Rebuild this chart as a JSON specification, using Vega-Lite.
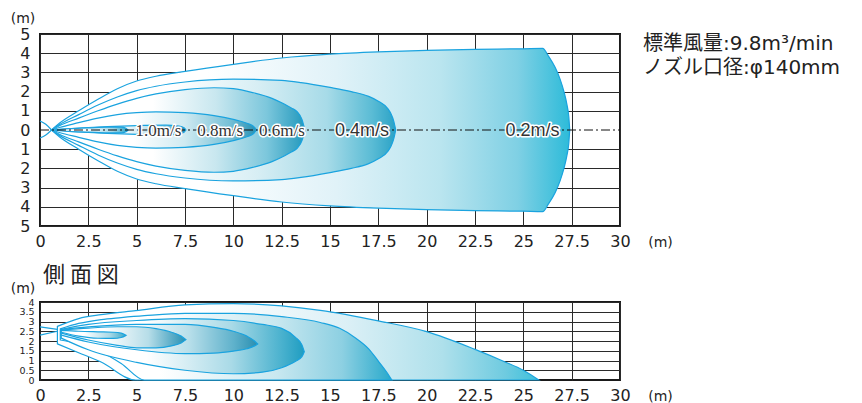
{
  "$schema": "https://vega.github.io/schema/vega-lite/v6.json",
  "background": "white",
  "padding": {"left": 9, "top": 10, "right": 0, "bottom": 0},
  "bounds": "flush",
  "spacing": 76,
  "config": {
    "view": {"stroke": "#1a1a1a", "strokeWidth": 2},
    "axis": {"zindex": 1, "grid": true, "gridColor": "#2a2a2a", "gridWidth": 1, "ticks": false, "domain": false, "labelColor": "#222222", "labelFont": "DejaVu Sans", "labelFontSize": 16, "labelOverlap": false, "titleFont": "DejaVu Sans", "titleFontSize": 14, "titleFontWeight": "normal", "titleColor": "#222222"}
  },
  "datasets": {
    "top": [
      {"shape": "0.2", "x": 0.6, "y": 0, "y2": 0},
      {"shape": "0.2", "x": 1, "y": 0.35, "y2": -0.35},
      {"shape": "0.2", "x": 2, "y": 1.0, "y2": -1.0},
      {"shape": "0.2", "x": 3, "y": 1.6, "y2": -1.6},
      {"shape": "0.2", "x": 4, "y": 2.15, "y2": -2.15},
      {"shape": "0.2", "x": 5, "y": 2.55, "y2": -2.55},
      {"shape": "0.2", "x": 6, "y": 2.8, "y2": -2.8},
      {"shape": "0.2", "x": 7.5, "y": 3.05, "y2": -3.05},
      {"shape": "0.2", "x": 10, "y": 3.42, "y2": -3.42},
      {"shape": "0.2", "x": 12.5, "y": 3.75, "y2": -3.75},
      {"shape": "0.2", "x": 15, "y": 3.95, "y2": -3.95},
      {"shape": "0.2", "x": 17.5, "y": 4.07, "y2": -4.07},
      {"shape": "0.2", "x": 20, "y": 4.15, "y2": -4.15},
      {"shape": "0.2", "x": 22.5, "y": 4.2, "y2": -4.2},
      {"shape": "0.2", "x": 25, "y": 4.23, "y2": -4.23},
      {"shape": "0.2", "x": 26, "y": 4.25, "y2": -4.25},
      {"shape": "0.2", "x": 26.3, "y": 3.85, "y2": -3.85},
      {"shape": "0.2", "x": 26.65, "y": 3.25, "y2": -3.25},
      {"shape": "0.2", "x": 26.9, "y": 2.65, "y2": -2.65},
      {"shape": "0.2", "x": 27.1, "y": 2.0, "y2": -2.0},
      {"shape": "0.2", "x": 27.25, "y": 1.35, "y2": -1.35},
      {"shape": "0.2", "x": 27.35, "y": 0.7, "y2": -0.7},
      {"shape": "0.2", "x": 27.4, "y": 0, "y2": 0},

      {"shape": "0.4", "x": 0.6, "y": 0, "y2": 0},
      {"shape": "0.4", "x": 1, "y": 0.28, "y2": -0.28},
      {"shape": "0.4", "x": 2, "y": 0.8, "y2": -0.8},
      {"shape": "0.4", "x": 3, "y": 1.3, "y2": -1.3},
      {"shape": "0.4", "x": 4, "y": 1.72, "y2": -1.72},
      {"shape": "0.4", "x": 5, "y": 2.05, "y2": -2.05},
      {"shape": "0.4", "x": 6, "y": 2.28, "y2": -2.28},
      {"shape": "0.4", "x": 7.5, "y": 2.5, "y2": -2.5},
      {"shape": "0.4", "x": 10, "y": 2.65, "y2": -2.65},
      {"shape": "0.4", "x": 12.5, "y": 2.58, "y2": -2.58},
      {"shape": "0.4", "x": 13.5, "y": 2.47, "y2": -2.47},
      {"shape": "0.4", "x": 15, "y": 2.22, "y2": -2.22},
      {"shape": "0.4", "x": 16.1, "y": 2.0, "y2": -2.0},
      {"shape": "0.4", "x": 17, "y": 1.75, "y2": -1.75},
      {"shape": "0.4", "x": 17.5, "y": 1.5, "y2": -1.5},
      {"shape": "0.4", "x": 18, "y": 1.1, "y2": -1.1},
      {"shape": "0.4", "x": 18.16, "y": 0.83, "y2": -0.83},
      {"shape": "0.4", "x": 18.3, "y": 0.45, "y2": -0.45},
      {"shape": "0.4", "x": 18.4, "y": 0, "y2": 0},

      {"shape": "0.6", "x": 0.6, "y": 0, "y2": 0},
      {"shape": "0.6", "x": 1, "y": 0.22, "y2": -0.22},
      {"shape": "0.6", "x": 2, "y": 0.62, "y2": -0.62},
      {"shape": "0.6", "x": 3, "y": 1.0, "y2": -1.0},
      {"shape": "0.6", "x": 4, "y": 1.35, "y2": -1.35},
      {"shape": "0.6", "x": 5, "y": 1.65, "y2": -1.65},
      {"shape": "0.6", "x": 6, "y": 1.88, "y2": -1.88},
      {"shape": "0.6", "x": 7.5, "y": 2.1, "y2": -2.1},
      {"shape": "0.6", "x": 9, "y": 2.2, "y2": -2.2},
      {"shape": "0.6", "x": 10, "y": 2.15, "y2": -2.15},
      {"shape": "0.6", "x": 11, "y": 1.95, "y2": -1.95},
      {"shape": "0.6", "x": 12, "y": 1.65, "y2": -1.65},
      {"shape": "0.6", "x": 12.5, "y": 1.42, "y2": -1.42},
      {"shape": "0.6", "x": 13, "y": 1.15, "y2": -1.15},
      {"shape": "0.6", "x": 13.3, "y": 0.95, "y2": -0.95},
      {"shape": "0.6", "x": 13.55, "y": 0.55, "y2": -0.55},
      {"shape": "0.6", "x": 13.7, "y": 0, "y2": 0},

      {"shape": "0.8", "x": 0.6, "y": 0, "y2": 0},
      {"shape": "0.8", "x": 1, "y": 0.13, "y2": -0.13},
      {"shape": "0.8", "x": 2, "y": 0.38, "y2": -0.38},
      {"shape": "0.8", "x": 3, "y": 0.62, "y2": -0.62},
      {"shape": "0.8", "x": 4, "y": 0.8, "y2": -0.8},
      {"shape": "0.8", "x": 5, "y": 0.9, "y2": -0.9},
      {"shape": "0.8", "x": 6, "y": 0.94, "y2": -0.94},
      {"shape": "0.8", "x": 7.5, "y": 0.9, "y2": -0.9},
      {"shape": "0.8", "x": 9, "y": 0.75, "y2": -0.75},
      {"shape": "0.8", "x": 10, "y": 0.55, "y2": -0.55},
      {"shape": "0.8", "x": 10.7, "y": 0.35, "y2": -0.35},
      {"shape": "0.8", "x": 11.05, "y": 0.18, "y2": -0.18},
      {"shape": "0.8", "x": 11.2, "y": 0, "y2": 0},

      {"shape": "1.0", "x": 0.6, "y": 0, "y2": 0},
      {"shape": "1.0", "x": 2, "y": 0.1, "y2": -0.1},
      {"shape": "1.0", "x": 3.5, "y": 0.18, "y2": -0.18},
      {"shape": "1.0", "x": 5, "y": 0.23, "y2": -0.23},
      {"shape": "1.0", "x": 6.5, "y": 0.25, "y2": -0.25},
      {"shape": "1.0", "x": 7.2, "y": 0.2, "y2": -0.2},
      {"shape": "1.0", "x": 7.45, "y": 0.12, "y2": -0.12},
      {"shape": "1.0", "x": 7.55, "y": 0, "y2": 0},

      {"shape": "1.5", "x": 0.6, "y": 0, "y2": 0},
      {"shape": "1.5", "x": 1.5, "y": 0.07, "y2": -0.07},
      {"shape": "1.5", "x": 2.5, "y": 0.11, "y2": -0.11},
      {"shape": "1.5", "x": 3.5, "y": 0.15, "y2": -0.15},
      {"shape": "1.5", "x": 4.2, "y": 0.15, "y2": -0.15},
      {"shape": "1.5", "x": 4.45, "y": 0.09, "y2": -0.09},
      {"shape": "1.5", "x": 4.55, "y": 0, "y2": 0}
    ],
    "topInlet": [
      {"part": "a", "x": 0, "y": 0.47},
      {"part": "a", "x": 0.3, "y": 0.3},
      {"part": "a", "x": 0.6, "y": 0},
      {"part": "b", "x": 0, "y": -0.42},
      {"part": "b", "x": 0.3, "y": -0.26},
      {"part": "b", "x": 0.6, "y": 0}
    ],
    "centerLine": [
      {"x": 0, "x2": 30, "y": 0}
    ],
    "topLabels": [
      {"label": "1.0m/s", "x": 6.13, "y": 0},
      {"label": "0.8m/s", "x": 9.32, "y": 0},
      {"label": "0.6m/s", "x": 12.51, "y": 0},
      {"label": "0.4m/s", "x": 16.65, "y": 0},
      {"label": "0.2m/s", "x": 25.47, "y": 0}
    ],
    "side": [
      {"shape": "0.2", "x": 0.9, "y": 2.75, "y2": 1.85},
      {"shape": "0.2", "x": 2, "y": 3.15, "y2": 1.4},
      {"shape": "0.2", "x": 3.16, "y": 3.35, "y2": 0.92},
      {"shape": "0.2", "x": 4.95, "y": 3.56, "y2": 0},
      {"shape": "0.2", "x": 7.5, "y": 3.85, "y2": 0},
      {"shape": "0.2", "x": 10, "y": 3.92, "y2": 0},
      {"shape": "0.2", "x": 12.5, "y": 3.8, "y2": 0},
      {"shape": "0.2", "x": 14.5, "y": 3.57, "y2": 0},
      {"shape": "0.2", "x": 17.5, "y": 3.03, "y2": 0},
      {"shape": "0.2", "x": 20, "y": 2.48, "y2": 0},
      {"shape": "0.2", "x": 22.5, "y": 1.57, "y2": 0},
      {"shape": "0.2", "x": 24, "y": 0.95, "y2": 0},
      {"shape": "0.2", "x": 25, "y": 0.5, "y2": 0},
      {"shape": "0.2", "x": 25.8, "y": 0, "y2": 0},

      {"shape": "0.4", "x": 1.05, "y": 2.62, "y2": 2.05},
      {"shape": "0.4", "x": 2, "y": 2.9, "y2": 1.85},
      {"shape": "0.4", "x": 3.16, "y": 3.1, "y2": 1.44},
      {"shape": "0.4", "x": 4.2, "y": 3.2, "y2": 0.85},
      {"shape": "0.4", "x": 5.4, "y": 3.3, "y2": 0},
      {"shape": "0.4", "x": 7.5, "y": 3.42, "y2": 0},
      {"shape": "0.4", "x": 10, "y": 3.42, "y2": 0},
      {"shape": "0.4", "x": 12.5, "y": 3.25, "y2": 0},
      {"shape": "0.4", "x": 14.5, "y": 2.95, "y2": 0},
      {"shape": "0.4", "x": 15.5, "y": 2.65, "y2": 0},
      {"shape": "0.4", "x": 16.3, "y": 2.17, "y2": 0},
      {"shape": "0.4", "x": 17, "y": 1.6, "y2": 0},
      {"shape": "0.4", "x": 17.5, "y": 0.97, "y2": 0},
      {"shape": "0.4", "x": 17.9, "y": 0.45, "y2": 0},
      {"shape": "0.4", "x": 18.2, "y": 0, "y2": 0},

      {"shape": "0.6", "x": 1.1, "y": 2.6, "y2": 2.15},
      {"shape": "0.6", "x": 2.5, "y": 2.85, "y2": 1.55},
      {"shape": "0.6", "x": 5, "y": 3.05, "y2": 0.9},
      {"shape": "0.6", "x": 7.5, "y": 3.15, "y2": 0.5},
      {"shape": "0.6", "x": 10, "y": 3.05, "y2": 0.32},
      {"shape": "0.6", "x": 11.5, "y": 2.85, "y2": 0.4},
      {"shape": "0.6", "x": 12.5, "y": 2.65, "y2": 0.63},
      {"shape": "0.6", "x": 13.2, "y": 2.2, "y2": 0.95},
      {"shape": "0.6", "x": 13.55, "y": 1.8, "y2": 1.2},
      {"shape": "0.6", "x": 13.67, "y": 1.45, "y2": 1.45},

      {"shape": "0.8", "x": 1.1, "y": 2.58, "y2": 2.3},
      {"shape": "0.8", "x": 2.5, "y": 2.72, "y2": 1.95},
      {"shape": "0.8", "x": 5, "y": 2.85, "y2": 1.55},
      {"shape": "0.8", "x": 7.5, "y": 2.85, "y2": 1.35},
      {"shape": "0.8", "x": 9, "y": 2.7, "y2": 1.38},
      {"shape": "0.8", "x": 10, "y": 2.5, "y2": 1.48},
      {"shape": "0.8", "x": 10.7, "y": 2.25, "y2": 1.6},
      {"shape": "0.8", "x": 11.1, "y": 2.0, "y2": 1.75},
      {"shape": "0.8", "x": 11.26, "y": 1.85, "y2": 1.85},

      {"shape": "1.0", "x": 1.1, "y": 2.56, "y2": 2.4},
      {"shape": "1.0", "x": 2.5, "y": 2.66, "y2": 2.05},
      {"shape": "1.0", "x": 4, "y": 2.73, "y2": 1.78},
      {"shape": "1.0", "x": 5, "y": 2.73, "y2": 1.65},
      {"shape": "1.0", "x": 6, "y": 2.63, "y2": 1.65},
      {"shape": "1.0", "x": 6.8, "y": 2.45, "y2": 1.75},
      {"shape": "1.0", "x": 7.3, "y": 2.25, "y2": 1.9},
      {"shape": "1.0", "x": 7.55, "y": 2.07, "y2": 2.07},

      {"shape": "1.5", "x": 1.1, "y": 2.55, "y2": 2.45},
      {"shape": "1.5", "x": 2, "y": 2.5, "y2": 2.25},
      {"shape": "1.5", "x": 3, "y": 2.47, "y2": 2.14},
      {"shape": "1.5", "x": 3.8, "y": 2.45, "y2": 2.13},
      {"shape": "1.5", "x": 4.2, "y": 2.4, "y2": 2.18},
      {"shape": "1.5", "x": 4.45, "y": 2.29, "y2": 2.29}
    ],
    "sideInlet": [
      {"part": "a", "x": 0, "y": 2.72},
      {"part": "a", "x": 0.9, "y": 2.6},
      {"part": "b", "x": 0, "y": 2.3},
      {"part": "b", "x": 0.9, "y": 2.5}
    ]
  },
  "vconcat": [
    {
      "width": 580,
      "height": 192,
      "title": {"text": ["標準風量:9.8m³/min", "ノズル口径:φ140mm"], "orient": "top", "anchor": "start", "frame": "group", "align": "left", "baseline": "top", "offset": 0, "dx": 603, "dy": 67, "font": "DejaVu Sans, Noto Sans CJK JP", "fontSize": 20, "fontWeight": "normal", "color": "#222222", "lineHeight": 24},
      "encoding": {
        "x": {"field": "x", "type": "quantitative", "scale": {"domain": [0, 30], "nice": false, "zero": false},
          "axis": {"values": [0, 2.5, 5, 7.5, 10, 12.5, 15, 17.5, 20, 22.5, 25, 27.5, 30], "format": ".1~f", "labelFlush": false, "labelPadding": 7, "title": "(m)", "titleX": 620, "titleY": 16, "titleAlign": "center", "titleBaseline": "middle"}},
        "y": {"field": "y", "type": "quantitative", "scale": {"domain": [-5, 5], "nice": false, "zero": false},
          "axis": {"values": [-5, -4, -3, -2, -1, 0, 1, 2, 3, 4, 5], "labelExpr": "'' + abs(datum.value)", "labelPadding": 10, "gridOpacity": {"condition": {"test": "datum.value === 0", "value": 0}, "value": 1}, "title": "(m)", "titleAngle": 0, "titleX": -17.5, "titleY": -16, "titleAlign": "center", "titleBaseline": "middle"}}
      },
      "layer": [
        {"data": {"name": "top"}, "transform": [{"filter": "datum.shape === '0.2'"}],
          "mark": {"type": "area", "interpolate": "monotone", "stroke": "#1aa3df", "strokeWidth": 1.2,
            "fill": {"gradient": "linear", "x1": 0, "y1": 0, "x2": 1, "y2": 0, "stops": [{"offset": 0, "color": "#ffffff"}, {"offset": 0.3, "color": "#ffffff"}, {"offset": 0.55, "color": "#e0f2f8"}, {"offset": 0.75, "color": "#bae5ef"}, {"offset": 0.9, "color": "#7fd0e4"}, {"offset": 1, "color": "#2dbbd9"}]}},
          "encoding": {"y2": {"field": "y2"}}},
        {"data": {"name": "top"}, "transform": [{"filter": "datum.shape === '0.4'"}],
          "mark": {"type": "area", "interpolate": "monotone", "stroke": "#1aa3df", "strokeWidth": 1.2,
            "fill": {"gradient": "linear", "x1": 0, "y1": 0, "x2": 1, "y2": 0, "stops": [{"offset": 0, "color": "#ffffff"}, {"offset": 0.35, "color": "#ffffff"}, {"offset": 0.6, "color": "#d7eef4"}, {"offset": 0.8, "color": "#a7dbe8"}, {"offset": 0.93, "color": "#5bbcd5"}, {"offset": 1, "color": "#2aa2c6"}]}},
          "encoding": {"y2": {"field": "y2"}}},
        {"data": {"name": "top"}, "transform": [{"filter": "datum.shape === '0.6'"}],
          "mark": {"type": "area", "interpolate": "monotone", "stroke": "#1aa3df", "strokeWidth": 1.2,
            "fill": {"gradient": "linear", "x1": 0, "y1": 0, "x2": 1, "y2": 0, "stops": [{"offset": 0, "color": "#ffffff"}, {"offset": 0.4, "color": "#ffffff"}, {"offset": 0.65, "color": "#c8e7ef"}, {"offset": 0.85, "color": "#7cc7dc"}, {"offset": 1, "color": "#2399bd"}]}},
          "encoding": {"y2": {"field": "y2"}}},
        {"data": {"name": "top"}, "transform": [{"filter": "datum.shape === '0.8'"}],
          "mark": {"type": "area", "interpolate": "monotone", "stroke": "#1aa3df", "strokeWidth": 1.2,
            "fill": {"gradient": "linear", "x1": 0, "y1": 0, "x2": 1, "y2": 0, "stops": [{"offset": 0, "color": "#ffffff"}, {"offset": 0.4, "color": "#ffffff"}, {"offset": 0.65, "color": "#cfeaf1"}, {"offset": 0.87, "color": "#76c0d6"}, {"offset": 1, "color": "#2690b3"}]}},
          "encoding": {"y2": {"field": "y2"}}},
        {"data": {"name": "top"}, "transform": [{"filter": "datum.shape === '1.0'"}],
          "mark": {"type": "area", "interpolate": "monotone", "stroke": "#1aa3df", "strokeWidth": 1.2,
            "fill": {"gradient": "linear", "x1": 0, "y1": 0, "x2": 1, "y2": 0, "stops": [{"offset": 0, "color": "#ffffff"}, {"offset": 0.5, "color": "#ffffff"}, {"offset": 0.8, "color": "#a9d9e6"}, {"offset": 1, "color": "#1f88ad"}]}},
          "encoding": {"y2": {"field": "y2"}}},
        {"data": {"name": "top"}, "transform": [{"filter": "datum.shape === '1.5'"}],
          "mark": {"type": "area", "interpolate": "monotone", "stroke": "#1aa3df", "strokeWidth": 1.2,
            "fill": {"gradient": "linear", "x1": 0, "y1": 0, "x2": 1, "y2": 0, "stops": [{"offset": 0, "color": "#ffffff"}, {"offset": 0.4, "color": "#ffffff"}, {"offset": 0.8, "color": "#a3d6e5"}, {"offset": 1, "color": "#2ea5c8"}]}},
          "encoding": {"y2": {"field": "y2"}}},
        {"data": {"name": "topInlet"},
          "mark": {"type": "line", "interpolate": "monotone", "stroke": "#1aa3df", "strokeWidth": 1.2},
          "encoding": {"detail": {"field": "part"}}},
        {"data": {"name": "centerLine"},
          "mark": {"type": "rule", "color": "#111111", "strokeWidth": 1, "strokeDash": [9, 3, 2, 3]},
          "encoding": {"x2": {"field": "x2"}}},
        {"data": {"name": "topLabels"}, "transform": [{"filter": "datum.label !== '0.4m/s' && datum.label !== '0.2m/s'"}],
          "mark": {"type": "text", "font": "Liberation Sans Narrow", "fontSize": 17, "baseline": "middle", "align": "center", "dy": 1, "fill": "white", "stroke": "white", "strokeWidth": 3, "strokeJoin": "round"},
          "encoding": {"text": {"field": "label"}}},
        {"data": {"name": "topLabels"}, "transform": [{"filter": "datum.label !== '0.4m/s' && datum.label !== '0.2m/s'"}],
          "mark": {"type": "text", "font": "Liberation Sans Narrow", "fontSize": 17, "baseline": "middle", "align": "center", "dy": 1, "fill": "#333333"},
          "encoding": {"text": {"field": "label"}}},
        {"data": {"name": "topLabels"}, "transform": [{"filter": "datum.label === '0.4m/s' || datum.label === '0.2m/s'"}],
          "mark": {"type": "text", "font": "Liberation Sans", "fontSize": 18, "baseline": "middle", "align": "center", "dy": 1, "fill": "white", "stroke": "white", "strokeWidth": 3, "strokeJoin": "round"},
          "encoding": {"text": {"field": "label"}}},
        {"data": {"name": "topLabels"}, "transform": [{"filter": "datum.label === '0.4m/s' || datum.label === '0.2m/s'"}],
          "mark": {"type": "text", "font": "Liberation Sans", "fontSize": 18, "baseline": "middle", "align": "center", "dy": 1, "fill": "#333333"},
          "encoding": {"text": {"field": "label"}}}
      ]
    },
    {
      "width": 580,
      "height": 78,
      "title": {"text": "側 面 図", "anchor": "start", "frame": "group", "font": "Noto Sans CJK JP", "fontSize": 22, "fontWeight": "normal", "color": "#222222", "baseline": "alphabetic", "offset": 16, "dx": 3, "dy": 39},
      "encoding": {
        "x": {"field": "x", "type": "quantitative", "scale": {"domain": [0, 30], "nice": false, "zero": false},
          "axis": {"values": [0, 2.5, 5, 7.5, 10, 12.5, 15, 17.5, 20, 22.5, 25, 27.5, 30], "format": ".1~f", "labelFlush": false, "labelPadding": 7, "title": "(m)", "titleX": 620, "titleY": 16, "titleAlign": "center", "titleBaseline": "middle"}},
        "y": {"field": "y", "type": "quantitative", "scale": {"domain": [0, 4], "nice": false, "zero": false},
          "axis": {"values": [0, 0.5, 1, 1.5, 2, 2.5, 3, 3.5, 4], "format": ".1~f", "labelFontSize": 9.5, "labelPadding": 6, "gridOpacity": {"condition": {"test": "datum.value === 0", "value": 0}, "value": 1}, "title": "(m)", "titleAngle": 0, "titleX": -17.5, "titleY": -14, "titleAlign": "center", "titleBaseline": "middle"}}
      },
      "layer": [
        {"data": {"name": "side"}, "transform": [{"filter": "datum.shape === '0.2'"}],
          "mark": {"type": "area", "interpolate": "monotone", "stroke": "#1aa3df", "strokeWidth": 1.2,
            "fill": {"gradient": "linear", "x1": 0, "y1": 0, "x2": 1, "y2": 0, "stops": [{"offset": 0, "color": "#ffffff"}, {"offset": 0.3, "color": "#ffffff"}, {"offset": 0.6, "color": "#dcf0f6"}, {"offset": 0.8, "color": "#aee0eb"}, {"offset": 0.93, "color": "#6fcbe0"}, {"offset": 1, "color": "#3cc0db"}]}},
          "encoding": {"y2": {"field": "y2"}}},
        {"data": {"name": "side"}, "transform": [{"filter": "datum.shape === '0.4'"}],
          "mark": {"type": "area", "interpolate": "monotone", "stroke": "#1aa3df", "strokeWidth": 1.2,
            "fill": {"gradient": "linear", "x1": 0, "y1": 0, "x2": 1, "y2": 0, "stops": [{"offset": 0, "color": "#ffffff"}, {"offset": 0.3, "color": "#ffffff"}, {"offset": 0.65, "color": "#c9e8f0"}, {"offset": 0.85, "color": "#8dd0e2"}, {"offset": 1, "color": "#28a9cb"}]}},
          "encoding": {"y2": {"field": "y2"}}},
        {"data": {"name": "side"}, "transform": [{"filter": "datum.shape === '0.6'"}],
          "mark": {"type": "area", "interpolate": "monotone", "stroke": "#1aa3df", "strokeWidth": 1.2,
            "fill": {"gradient": "linear", "x1": 0, "y1": 0, "x2": 1, "y2": 0, "stops": [{"offset": 0, "color": "#ffffff"}, {"offset": 0.35, "color": "#ffffff"}, {"offset": 0.7, "color": "#a9dae7"}, {"offset": 0.9, "color": "#4db3cf"}, {"offset": 1, "color": "#1f9dc1"}]}},
          "encoding": {"y2": {"field": "y2"}}},
        {"data": {"name": "side"}, "transform": [{"filter": "datum.shape === '0.8'"}],
          "mark": {"type": "area", "interpolate": "monotone", "stroke": "#1aa3df", "strokeWidth": 1.2,
            "fill": {"gradient": "linear", "x1": 0, "y1": 0, "x2": 1, "y2": 0, "stops": [{"offset": 0, "color": "#ffffff"}, {"offset": 0.35, "color": "#ffffff"}, {"offset": 0.65, "color": "#b8dfea"}, {"offset": 0.88, "color": "#5eb1cb"}, {"offset": 1, "color": "#2a8eb0"}]}},
          "encoding": {"y2": {"field": "y2"}}},
        {"data": {"name": "side"}, "transform": [{"filter": "datum.shape === '1.0'"}],
          "mark": {"type": "area", "interpolate": "monotone", "stroke": "#1aa3df", "strokeWidth": 1.2,
            "fill": {"gradient": "linear", "x1": 0, "y1": 0, "x2": 1, "y2": 0, "stops": [{"offset": 0, "color": "#ffffff"}, {"offset": 0.35, "color": "#ffffff"}, {"offset": 0.7, "color": "#b6dde8"}, {"offset": 1, "color": "#2590b4"}]}},
          "encoding": {"y2": {"field": "y2"}}},
        {"data": {"name": "side"}, "transform": [{"filter": "datum.shape === '1.5'"}],
          "mark": {"type": "area", "interpolate": "monotone", "stroke": "#1aa3df", "strokeWidth": 1.2,
            "fill": {"gradient": "linear", "x1": 0, "y1": 0, "x2": 1, "y2": 0, "stops": [{"offset": 0, "color": "#ffffff"}, {"offset": 0.35, "color": "#ffffff"}, {"offset": 0.75, "color": "#a8d8e6"}, {"offset": 1, "color": "#3aa8c8"}]}},
          "encoding": {"y2": {"field": "y2"}}},
        {"data": {"name": "sideInlet"},
          "mark": {"type": "line", "stroke": "#1aa3df", "strokeWidth": 1.2},
          "encoding": {"detail": {"field": "part"}}}
      ]
    }
  ]
}
